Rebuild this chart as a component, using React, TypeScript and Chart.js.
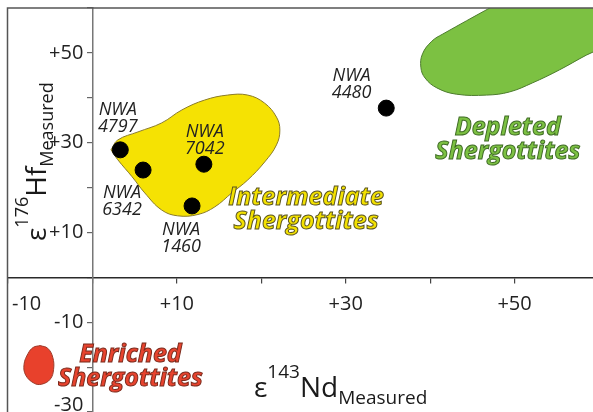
import React, { useEffect, useRef } from 'react';
import { Chart, registerables } from 'chart.js';

Chart.register(...registerables);

// ---- Data ----
const sampleNames = ['NWA 4797', 'NWA 6342', 'NWA 1460', 'NWA 7042', 'NWA 4480'];
const sampleNd = [3.3, 6.0, 11.8, 13.2, 34.8];
const sampleHf = [28.4, 23.9, 15.9, 25.2, 37.7];
// label anchors (data units) for the sample names
const sampleLabelNd = [3.0, 3.5, 10.5, 13.3, 30.7];
const sampleLabelHf = [37.3, 18.8, 10.5, 32.4, 44.8];

// Intermediate shergottites field outline
const intermediateNd = [2.2, 3.0, 5.4, 8.2, 10.6, 13.3, 16.0, 18.4, 20.4, 21.8, 22.2, 21.8, 20.4, 18.4, 16.5, 14.5, 12.5, 10.1, 8.2, 6.2, 4.7, 3.0];
const intermediateHf = [28.4, 30.6, 32.4, 34.4, 37.3, 39.5, 40.6, 40.6, 38.8, 35.7, 32.8, 29.5, 25.7, 21.7, 18.8, 15.7, 14.0, 13.7, 15.0, 18.8, 22.4, 26.2];

// Depleted shergottites field outline (extends past the plot edges)
const depletedNd = [52.0, 41.5, 40.2, 39.1, 38.9, 39.4, 40.8, 43.1, 46.7, 49.4, 52.1, 55.3, 58.5, 64.8, 64.8];
const depletedHf = [65.1, 54.2, 52.6, 49.8, 46.8, 44.4, 42.2, 40.8, 40.6, 41.3, 43.3, 46.2, 49.5, 55.5, 66.0];

// Enriched shergottites field outline
const enrichedNd = [-6.2, -5.3, -4.7, -4.6, -5.0, -6.0, -6.9, -7.9, -8.1, -7.6, -7.0];
const enrichedHf = [-15.2, -15.8, -17.8, -20.5, -22.7, -23.8, -23.6, -21.8, -19.4, -16.9, -15.6];

const groupNames = ['Intermediate', 'Depleted', 'Enriched'];
const groupLabelNd = [25.3, 49.2, 4.5];
const groupLabelHf = [17.7, 33.3, -17.3];

const xTickValues = [-10, 0, 10, 20, 30, 40, 50, 60];
const xTickLabels = ['-10', '', '+10', '', '+30', '', '+50', ''];
const yTickValues = [-30, -20, -10, 0, 10, 20, 30, 40, 50, 60];
const yTickLabels = ['-30', '', '-10', '', '+10', '', '+30', '', '+50', ''];

const FONT = '"Open Sans", "Noto Sans", sans-serif';

function closed(xs: number[], ys: number[]) {
  const pts = xs.map((x, i) => ({ x, y: ys[i] }));
  pts.push({ ...pts[0] });
  return pts;
}

function drawRich(ctx: CanvasRenderingContext2D, parts: { text: string; font: string; dy: number }[], x: number, y: number) {
  let cx = x;
  for (const p of parts) {
    ctx.font = p.font;
    ctx.fillText(p.text, cx, y + p.dy);
    cx += ctx.measureText(p.text).width;
  }
}

// Moves the y tick labels off the centred axis line (Chart.js puts them flush on it)
const tickNudgePlugin = {
  id: 'tickNudge',
  beforeDraw(chart: any) {
    const yItems = chart.scales.y.getLabelItems();
    if (!yItems._nudged) {
      yItems.forEach((it: any) => {
        it.options.translation[0] -= 9;
        if (it.label === '-30') it.options.translation[1] -= 7;
      });
      yItems._nudged = true;
    }
    const xItems = chart.scales.x.getLabelItems();
    if (!xItems._nudged) {
      xItems.forEach((it: any) => {
        if (it.label === '-10') it.options.translation[0] += 4;
      });
      xItems._nudged = true;
    }
  },
};

const annotationPlugin = {
  id: 'annotations',
  afterDatasetsDraw(chart: any) {
    const ctx: CanvasRenderingContext2D = chart.ctx;
    const xs = chart.scales.x;
    const ys = chart.scales.y;
    const area = chart.chartArea;
    ctx.save();
    // frame
    ctx.strokeStyle = '#555';
    ctx.lineWidth = 1.5;
    ctx.beginPath();
    ctx.moveTo(area.left - 0.5, area.bottom);
    ctx.lineTo(area.left - 0.5, area.top);
    ctx.lineTo(area.right, area.top);
    ctx.stroke();

    // sample labels
    ctx.fillStyle = '#222';
    ctx.textAlign = 'center';
    ctx.textBaseline = 'middle';
    ctx.font = `italic 18px ${FONT}`;
    sampleNames.forEach((name, i) => {
      const px = xs.getPixelForValue(sampleLabelNd[i]);
      const py = ys.getPixelForValue(sampleLabelHf[i]);
      const [a, b] = name.split(' ');
      ctx.fillText(a, px, py);
      ctx.fillText(b, px, py + 17);
    });

    // group labels
    const fills = ['#f3e100', '#7cc142', '#e8432e'];
    const strokes = ['#5a5420', '#3f6b25', '#7a2a1c'];
    ctx.font = `italic bold 25px ${FONT}`;
    ctx.lineWidth = 1;
    groupNames.forEach((name, i) => {
      const px = xs.getPixelForValue(groupLabelNd[i]);
      const py = ys.getPixelForValue(groupLabelHf[i]);
      [name, 'Shergottites'].forEach((t, k) => {
        ctx.fillStyle = fills[i];
        ctx.strokeStyle = strokes[i];
        ctx.fillText(t, px, py + k * 24);
        ctx.strokeText(t, px, py + k * 24);
      });
    });
    ctx.restore();
  },
  afterDraw(chart: any) {
    const ctx: CanvasRenderingContext2D = chart.ctx;
    ctx.save();
    ctx.fillStyle = '#1a1a1a';
    ctx.textAlign = 'left';
    ctx.textBaseline = 'alphabetic';
    const big = `28px ${FONT}`;
    const small = `19px ${FONT}`;
    // x-axis title
    drawRich(ctx, [
      { text: 'ε', font: big, dy: 0 },
      { text: '143', font: small, dy: -19 },
      { text: 'Nd', font: big, dy: 0 },
      { text: 'Measured', font: small, dy: 7 },
    ], 254, 397);
    // y-axis title
    ctx.translate(46, 241);
    ctx.rotate(-Math.PI / 2);
    drawRich(ctx, [
      { text: 'ε', font: big, dy: 0 },
      { text: '176', font: `18px ${FONT}`, dy: -18 },
      { text: 'Hf', font: big, dy: 0 },
      { text: 'Measured', font: `18px ${FONT}`, dy: 7 },
    ], 0, 0);
    ctx.restore();
  },
};

function flatten(s: any) {
  s.paddingTop = 0;
  s.paddingBottom = 0;
  s.paddingLeft = 0;
  s.paddingRight = 0;
}

export default function App() {
  const ref = useRef<HTMLCanvasElement | null>(null);
  useEffect(() => {
    if (!ref.current) return;
    const chart = new Chart(ref.current, {
      type: 'scatter',
      data: {
        datasets: [
          {
            label: 'Samples',
            data: sampleNd.map((x, i) => ({ x, y: sampleHf[i] })),
            backgroundColor: '#000',
            borderColor: '#000',
            pointRadius: 8,
            pointHoverRadius: 8,
            showLine: false,
          },
          {
            label: 'Intermediate',
            data: closed(intermediateNd, intermediateHf),
            showLine: true,
            fill: 'shape',
            tension: 0.4,
            backgroundColor: '#f5e203',
            borderColor: '#8a7b2c',
            borderWidth: 1,
            pointRadius: 0,
          },
          {
            label: 'Depleted',
            data: closed(depletedNd, depletedHf),
            showLine: true,
            fill: 'shape',
            tension: 0.4,
            backgroundColor: '#7cc142',
            borderColor: '#4d7c2e',
            borderWidth: 1,
            pointRadius: 0,
          },
          {
            label: 'Enriched',
            data: closed(enrichedNd, enrichedHf),
            showLine: true,
            fill: 'shape',
            tension: 0.4,
            backgroundColor: '#e8412c',
            borderColor: '#9c3a2a',
            borderWidth: 1,
            pointRadius: 0,
          },
        ],
      },
      options: {
        animation: false,
        responsive: false,
        maintainAspectRatio: false,
        events: [],
        layout: { autoPadding: false, padding: { left: 8, top: 8, right: 1, bottom: 0 } },
        plugins: { legend: { display: false }, tooltip: { enabled: false } },
        scales: {
          x: {
            type: 'linear',
            min: -10,
            max: 60,
            position: { y: 0 } as any,
            afterFit: (s: any) => { s.height = 0; flatten(s); },
            afterBuildTicks: (s: any) => { s.ticks = xTickValues.map((v) => ({ value: v })); },
            grid: { drawOnChartArea: false, drawTicks: true, tickLength: 5, color: '#444', lineWidth: 1.2 },
            border: { color: '#2a2a2a', width: 1.5 },
            ticks: {
              align: 'inner',
              padding: 10,
              color: '#222',
              autoSkip: false,
              maxRotation: 0,
              font: { family: FONT, size: 20 },
              callback: (v: any) => xTickLabels[xTickValues.indexOf(Number(v))] ?? '',
            },
          },
          y: {
            type: 'linear',
            min: -30,
            max: 60,
            position: { x: 0 } as any,
            afterFit: (s: any) => { s.width = 0; flatten(s); },
            afterBuildTicks: (s: any) => { s.ticks = yTickValues.map((v) => ({ value: v })); },
            grid: { drawOnChartArea: false, drawTicks: true, tickLength: 5, color: '#666', lineWidth: 1.2 },
            border: { color: '#777', width: 1.5 },
            ticks: {
              padding: 10,
              color: '#222',
              autoSkip: false,
              font: { family: FONT, size: 20 },
              callback: (v: any) => yTickLabels[yTickValues.indexOf(Number(v))] ?? '',
            },
          },
        },
      },
      plugins: [tickNudgePlugin, annotationPlugin],
    } as any);
    return () => chart.destroy();
  }, []);

  return (
    <div style={{ position: 'absolute', left: 0, top: 0, width: 593, height: 412, overflow: 'hidden', background: '#fff' }}>
      <canvas ref={ref} width={600} height={412} style={{ display: 'block', width: 600, height: 412 }} />
    </div>
  );
}
